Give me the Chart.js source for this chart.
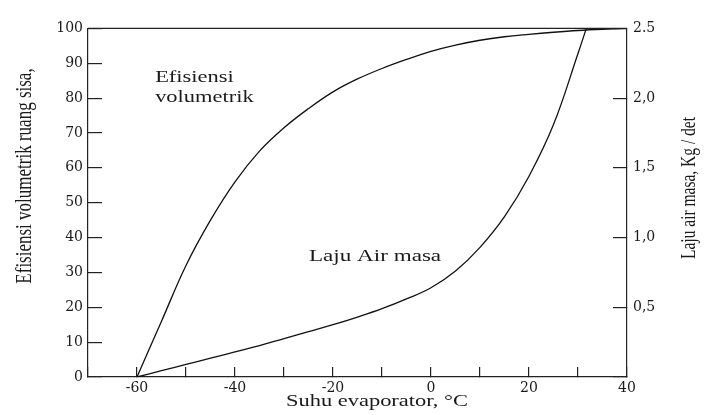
<!DOCTYPE html>
<html>
<head>
<meta charset="utf-8">
<script src="https://cdn.jsdelivr.net/npm/chart.js@4.4.0/dist/chart.umd.min.js"></script>
<style>
  body { margin: 0; background: #fff; }
  canvas { display: block; }
</style>
</head>
<body>
<canvas id="chart" width="708" height="415"></canvas>
<script>
// suhu evaporator (°C)
const temps = [-60, -55, -50, -45, -40, -35, -30, -25, -20, -15, -10, -5, 0, 5, 10, 15, 20, 25, 30, 35, 40]
// efisiensi volumetrik ruang sisa (%)
const efisiensi = [0, 16, 32, 45, 56, 64.8, 71.5, 77, 81.8, 85.5, 88.5, 91.1, 93.4, 95.2, 96.6, 97.6, 98.3, 98.9, 99.4, 99.75, 100]

// laju air masa (kg/det)
const lajuTemps = [-60, -55, -50, -45, -40, -35, -30, -25, -20, -15, -10, -5, 0, 5, 10, 15, 20, 25, 30, 31.7]
const laju = [0, 0.045, 0.09, 0.135, 0.18, 0.225, 0.275, 0.325, 0.375, 0.43, 0.49, 0.56, 0.64, 0.76, 0.93, 1.15, 1.44, 1.81, 2.32, 2.5]

const rightTickLabels = { 0.5: '0,5', 1: '1,0', 1.5: '1,5', 2: '2,0', 2.5: '2.5' }

const ink = '#1a1a1a'
const tickFont = { family: '"DejaVu Serif"', size: 14 }

// text in the source image is stretched sideways, so draw free text the same way
const drawText = (ctx, text, x, y, rot, size) => {
    ctx.save()
    ctx.translate(x, y)
    ctx.scale(1.32, 1)
    ctx.rotate(rot)
    ctx.font = size + 'px "Liberation Serif"'
    ctx.fillText(text, 0, 0)
    ctx.restore()
}

const textPlugin = {
    id: 'texts',
    afterDraw(chart) {
        const { ctx, chartArea: a, scales: { x, y } } = chart
        ctx.save()
        // top frame line
        ctx.strokeStyle = '#222'
        ctx.lineWidth = 1.2
        ctx.beginPath()
        ctx.moveTo(a.left, a.top)
        ctx.lineTo(a.right, a.top)
        ctx.stroke()

        ctx.fillStyle = ink
        ctx.textAlign = 'left'
        ctx.textBaseline = 'alphabetic'
        drawText(ctx, 'Efisiensi', x.getPixelForValue(-56.3), y.getPixelForValue(84.7), 0, 17)
        drawText(ctx, 'volumetrik', x.getPixelForValue(-56.3), y.getPixelForValue(84.7) + 20, 0, 17)
        drawText(ctx, 'Laju Air masa', x.getPixelForValue(-24.9), y.getPixelForValue(33.4), 0, 17.5)

        ctx.textAlign = 'center'
        ctx.textBaseline = 'middle'
        drawText(ctx, 'Suhu evaporator, °C', 377, 402, 0, 17)
        drawText(ctx, 'Efisiensi volumetrik ruang sisa,', 25, 176, -Math.PI / 2, 17)
        drawText(ctx, 'Laju air masa, Kg / det', 690, 188, -Math.PI / 2, 15.5)
        ctx.restore()
    }
}

const axisGrid = len => ({
    drawOnChartArea: false,
    drawTicks: true,
    tickLength: len,
    color: '#222',
    lineWidth: 1.2
})
const axisBorder = { color: '#222', width: 1.2 }

const chart = new Chart(document.getElementById('chart'), {
    type: 'line',
    data: {
        datasets: [{
            label: 'Efisiensi volumetrik',
            data: temps.map((t, i) => ({ x: t, y: efisiensi[i] })),
            yAxisID: 'y',
            borderColor: '#111',
            borderWidth: 1.3,
            pointRadius: 0,
            tension: 0.4,
            fill: false
        }, {
            label: 'Laju Air masa',
            data: lajuTemps.map((t, i) => ({ x: t, y: laju[i] })),
            yAxisID: 'y2',
            borderColor: '#111',
            borderWidth: 1.3,
            pointRadius: 0,
            tension: 0.4,
            fill: false
        }]
    },
    options: {
        responsive: false,
        animation: false,
        layout: { padding: { top: 12 } },
        plugins: { legend: { display: false }, tooltip: { enabled: false } },
        scales: {
            x: {
                type: 'linear',
                position: 'bottom',
                min: -70,
                max: 40,
                grid: axisGrid(-10),
                border: axisBorder,
                ticks: {
                    stepSize: 10,
                    autoSkip: false,
                    maxRotation: 0,
                    padding: 13,
                    color: ink,
                    font: tickFont,
                    callback: v => (v % 20 === 0 ? String(v) : '')
                },
                afterFit: s => { s.height = 38 }
            },
            y: {
                position: 'left',
                min: 0,
                max: 100,
                grid: axisGrid(-14),
                border: axisBorder,
                ticks: { stepSize: 10, padding: 19, color: ink, font: tickFont },
                afterFit: s => { s.width = 88 }
            },
            y2: {
                position: 'right',
                min: 0,
                max: 2.5,
                grid: axisGrid(-14),
                border: axisBorder,
                ticks: {
                    stepSize: 0.5,
                    padding: 20,
                    color: ink,
                    font: tickFont,
                    callback: v => rightTickLabels[v] || ''
                },
                afterFit: s => { s.width = 81 }
            }
        }
    },
    plugins: [textPlugin]
})
</script>
</body>
</html>
